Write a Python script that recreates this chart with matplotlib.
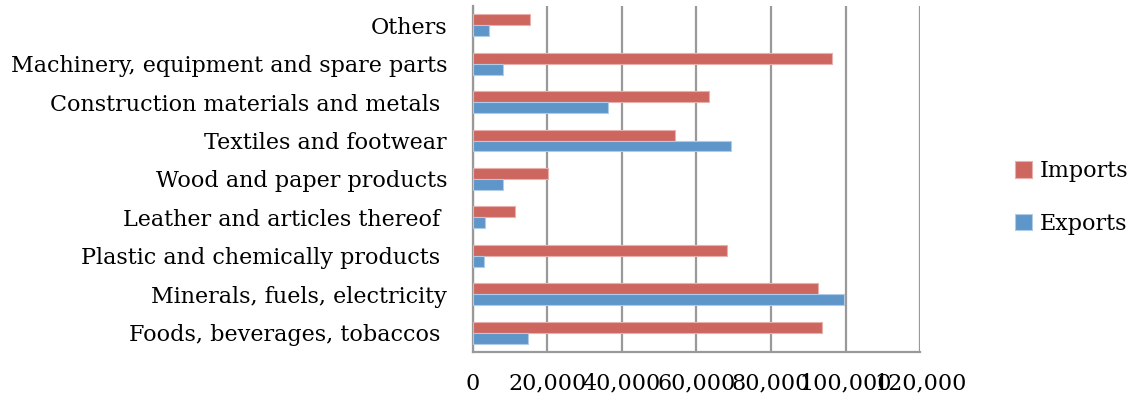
import matplotlib.pyplot as plt
import numpy as np

# product groups, bottom to top
categories = [
    'Foods, beverages, tobaccos ',
    'Minerals, fuels, electricity',
    'Plastic and chemically products ',
    'Leather and articles thereof ',
    'Wood and paper products',
    'Textiles and footwear',
    'Construction materials and metals ',
    'Machinery, equipment and spare parts',
    'Others',
]
imports = [93600, 92700, 68300, 11400, 20300, 54200, 63400, 96500, 15400]
exports = [14800, 99600, 2900, 3200, 8000, 69400, 36200, 8100, 4400]
xticks = [0, 20000, 40000, 60000, 80000, 100000, 120000]

plt.rcParams['font.family'] = ['DejaVu Serif']

fig = plt.figure(figsize=(11.31, 4.03), dpi=100)
ax = fig.add_axes([0.418, 0.127, 0.3955, 0.858])

y = np.arange(len(categories))
h = 0.285
ax.barh(y + h / 2, imports, height=h, color='#cd665f', edgecolor='#e8b0ac',
        linewidth=0.8, label='Imports', zorder=3)
ax.barh(y - h / 2, exports, height=h, color='#5f96c9', edgecolor='#b0cbe6',
        linewidth=0.8, label='Exports', zorder=3)

ax.set_xlim(0, 120000)
ax.set_ylim(-0.5, len(categories) - 0.5)
ax.set_xticks(xticks)
ax.set_xticklabels([f'{v:,}' for v in xticks])
ax.set_yticks(y)
ax.set_yticklabels(categories)
ax.tick_params(axis='both', length=0, labelsize=16)
ax.tick_params(axis='y', pad=18.5)
ax.tick_params(axis='x', pad=15)

ax.grid(axis='x', color='#999999', linewidth=1.6, zorder=0)
for s in ['top', 'right']:
    ax.spines[s].set_visible(False)
for s in ['left', 'bottom']:
    ax.spines[s].set_color('#999999')
    ax.spines[s].set_linewidth(1.6)

handles, labels = ax.get_legend_handles_labels()
fig.legend(handles, labels, loc='center left', bbox_to_anchor=(0.88, 0.51),
           frameon=False, fontsize=16, handlelength=0.75, handleheight=0.75,
           handletextpad=0.35, labelspacing=1.38)

fig.savefig('out.png', dpi=100)
